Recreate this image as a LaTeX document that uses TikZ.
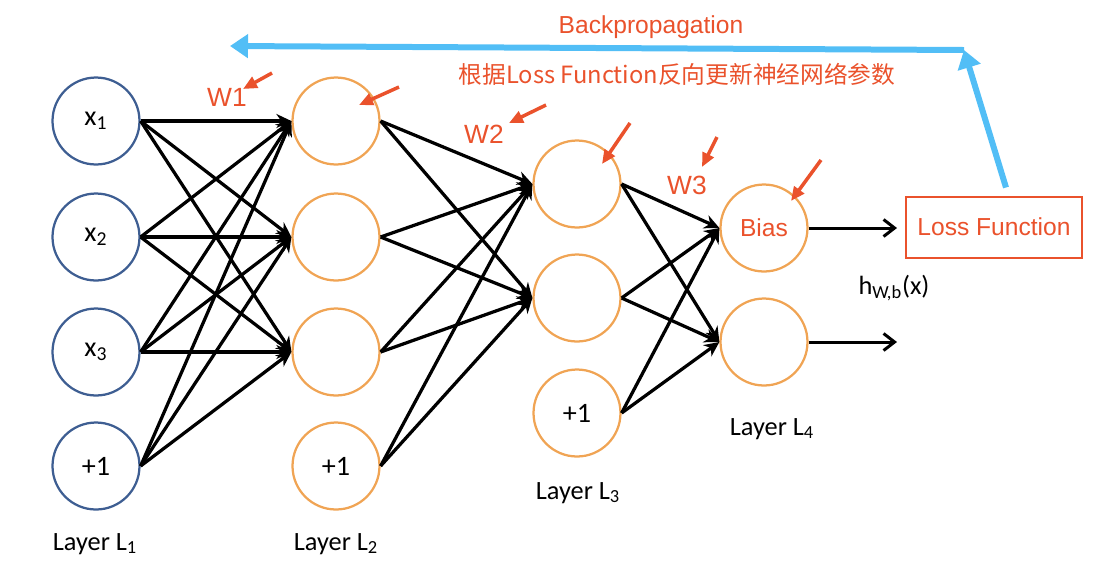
\documentclass[tikz,border=0pt]{standalone}
\usepackage{fontspec}
\setmainfont{Carlito}
\newfontfamily\redfont{Liberation Sans}
\newfontfamily\cjkfont{Noto Sans CJK SC}
\usetikzlibrary{arrows.meta}
\definecolor{nblue}{RGB}{62,94,146}
\definecolor{norange}{RGB}{240,164,84}
\definecolor{nred}{RGB}{234,82,44}
\definecolor{bpblue}{RGB}{82,190,246}
\tikzset{
  neuronin/.style={circle,draw=nblue,line width=0.045cm,minimum size=1.74cm,inner sep=0pt,font=\fontsize{16}{19}\selectfont},
  neuron/.style={neuronin,draw=norange},
  conn/.style={line width=0.065cm,-{Stealth[length=0.3cm,width=0.28cm]}},
  outconn/.style={line width=0.06cm,-{Straight Barb[length=0.22cm,width=0.34cm]}},
  pointer/.style={nred,line width=0.07cm,-{Triangle[length=0.28cm,width=0.24cm]}},
  bparrow/.style={bpblue,line width=0.12cm,-{Triangle[length=0.36cm,width=0.46cm]}},
  redtext/.style={text=nred,font=\redfont\fontsize{14}{17}\selectfont},
  layertext/.style={anchor=base,font=\fontsize{15}{18}\selectfont}
}
\begin{document}
\begin{tikzpicture}[x=0.02cm,y=-0.02cm]
\useasboundingbox (0,0) rectangle (1120,576);
% layers
\foreach \i/\y/\t in {1/121/x\textsubscript{1},2/237/x\textsubscript{2},3/352/x\textsubscript{3},4/466/+1}
  \node[neuronin] (a\i) at (96,\y) {\t};
\foreach \i/\y/\t in {1/121/,2/237/,3/352/,4/466/+1}
  \node[neuron] (b\i) at (336,\y) {\t};
\foreach \i/\y/\t in {1/184/,2/298/,3/413/+1}
  \node[neuron] (c\i) at (577,\y) {\t};
\node[neuron,redtext] (d1) at (764,228) {Bias};
\node[neuron] (d2) at (764,342) {};
\foreach \n/\x/\y in {1/95/550,2/336/550,3/578/499,4/772/435}
  \node[layertext] (l\n) at (\x,\y) {Layer L\textsubscript{\n}};
% weights
\foreach \i in {1,...,4} \foreach \j in {1,2,3} \draw[conn] (a\i.east) -- (b\j.west);
\foreach \i in {1,...,4} \foreach \j in {1,2} \draw[conn] (b\i.east) -- (c\j.west);
\foreach \i in {1,2,3} \foreach \j in {1,2} \draw[conn] (c\i.east) -- (d\j.west);
% output
\node[draw=nred,line width=0.04cm,redtext,minimum width=3.54cm,minimum height=1.22cm,inner sep=0pt] (loss) at (994,227) {\raisebox{-0.2cm}{Loss Function}};
\coordinate (o1) at (897,228);
\coordinate (o2) at (897,342);
\draw[outconn] (d1.east) -- (o1);
\draw[outconn] (d2.east) -- (o2);
\node[font=\fontsize{15}{18}\selectfont] (hout) at (894,288) {h\textsubscript{W,b}(x)};
% backpropagation
\coordinate (bpc) at (964,50);
\coordinate (bpe) at (230,46);
\draw[bparrow] ([xshift=0.24cm,yshift=0.16cm]loss.north) -- (bpc);
\draw[bparrow] (bpc) -- (bpe);
\node[redtext,anchor=base] (bptext) at (651,33) {Backpropagation};
\node[text=nred,font=\cjkfont\fontsize{13.5}{16}\selectfont,anchor=base] (cntext) at (677,83) {根据Loss Function反向更新神经网络参数};
\foreach \n/\x/\y in {1/227/106,2/484/143,3/687/194}
  \node[redtext,anchor=base,font=\redfont\fontsize{15}{18}\selectfont] (w\n) at (\x,\y) {W\n};
% pointers
\foreach \n/\x/\y/\u/\v in {1/272/73/243/89,2/399/87/359/105,3/546/105/509/123,4/630/123/602/164,5/717/137/702/167,6/821/160/791/201} {
  \coordinate (p\n s) at (\x,\y);
  \coordinate (p\n e) at (\u,\v);
  \draw[pointer] (p\n s) -- (p\n e);
}
\end{tikzpicture}
\end{document}
